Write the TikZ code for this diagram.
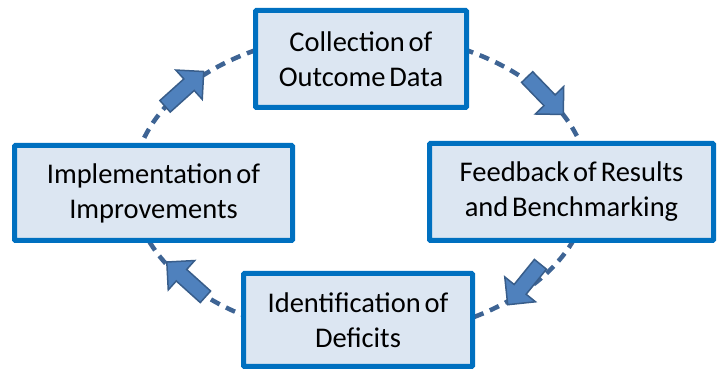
\documentclass[tikz,border=0pt]{standalone}
\usepackage{fontspec}
\setmainfont[WordSpace=0.6]{Carlito}
\usetikzlibrary{shapes.arrows}
\definecolor{boxline}{RGB}{0,112,192}
\definecolor{boxfill}{RGB}{220,230,242}
\definecolor{ringline}{RGB}{62,100,148}
\definecolor{arrowfill}{RGB}{79,129,189}
\definecolor{arrowline}{RGB}{56,93,138}
\tikzset{
  stagebox/.style={draw=boxline, fill=boxfill, line width=5pt, rounded corners=1pt,
    align=center, inner sep=0pt, font=\fontsize{28.5}{35}\selectfont},
  ringpath/.style={draw=ringline, line width=4.5pt, dash pattern=on 10pt off 7pt},
  turnarrow/.style={shape=single arrow, fill=arrowfill, draw=arrowline, line width=1.5pt,
    inner sep=7pt, single arrow head extend=12pt, minimum height=52pt, minimum width=38pt}
}
\begin{document}
\begin{tikzpicture}[x=1pt, y=1pt]
    \useasboundingbox (0,0) rectangle (718,371);
    \coordinate (hub) at (361,186);
    \draw[ringpath] (hub) ellipse [x radius=228, y radius=152];
    % arrows sitting on the ring
    \node[turnarrow, rotate=-46] (toFeed) at (542.5,278) {};
    \node[turnarrow, rotate=-129] (toIden) at (526.5,89.5) {};
    \node[turnarrow, rotate=138] (toImpl) at (189,89) {};
    \node[turnarrow, rotate=42] (toColl) at (181.5,279.5) {};
    % the four stages
    \node[stagebox, minimum width=211, minimum height=97] (coll) at (361,312) {Collection of\\Outcome Data};
    \node[stagebox, minimum width=284, minimum height=97] (feed) at (571.5,179) {Feedback of Results\\and Benchmarking};
    \node[stagebox, minimum width=229, minimum height=93] (iden) at (358,51) {Identification of\\Deficits};
    \node[stagebox, minimum width=278, minimum height=95] (impl) at (153.5,178) {Implementation of\\Improvements};
\end{tikzpicture}
\end{document}
